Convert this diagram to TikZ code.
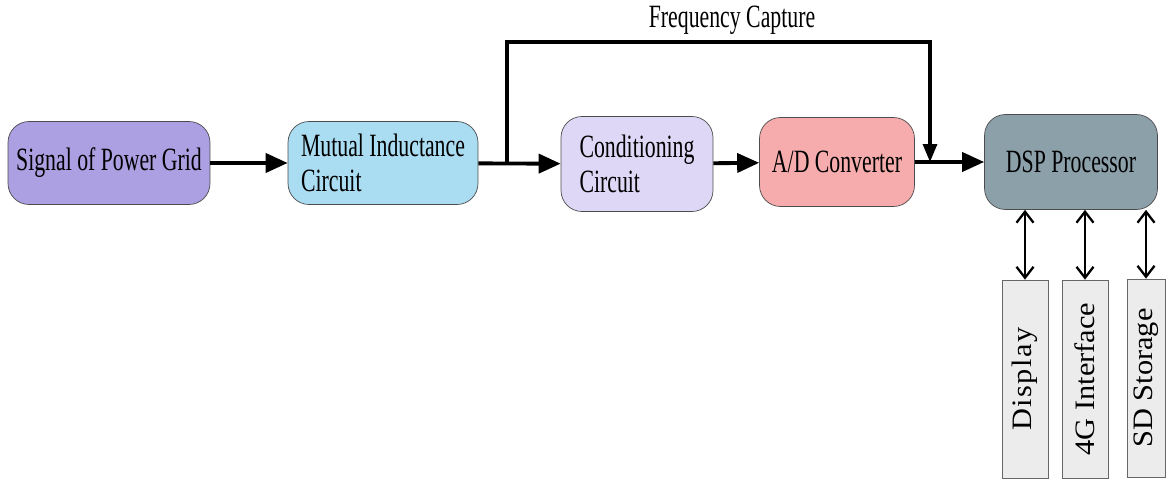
\documentclass[tikz,border=0pt]{standalone}
\usepackage{fontspec}
\setmainfont{Liberation Serif}[FakeStretch=0.67]
\newfontfamily\verticalfont{Liberation Serif}[FakeStretch=1.08]
\usetikzlibrary{arrows.meta}

\definecolor{colorSenal}{RGB}{172,160,226}
\definecolor{colorMutua}{RGB}{170,220,242}
\definecolor{colorAcond}{RGB}{222,216,246}
\definecolor{colorConv}{RGB}{246,172,172}
\definecolor{colorDsp}{RGB}{140,160,170}

\begin{document}
\begin{tikzpicture}[
        x=0.02cm, y=-0.02cm,
        every node/.style={font=\fontsize{18.5}{20}\selectfont},
        bloque/.style={draw=black!70, rounded corners=0.42cm, minimum height=1.66cm, inner sep=0pt},
        periferico/.style={draw=black!60, fill=gray!15, rotate=90, minimum width=3.96cm, minimum height=0.92cm, inner sep=0pt, font=\verticalfont\fontsize{16}{18}\selectfont},
        flecha/.style={line width=2.2pt, -{Triangle[length=0.44cm, width=0.38cm]}},
        retorno/.style={line width=1.8pt, -{Triangle[length=0.36cm, width=0.28cm]}},
        doble/.style={line width=1.3pt, {Straight Barb[length=0.22cm, width=0.34cm]}-{Straight Barb[length=0.22cm, width=0.34cm]}}
    ]
    \useasboundingbox (0,0) rectangle (1166,483);

    % Bloques
    \node[bloque, fill=colorSenal, minimum width=4.04cm] (senal) at (109,163) {Signal of Power Grid};
    \node[bloque, fill=colorMutua, minimum width=3.8cm, align=left] (mutua) at (383,163) {Mutual Inductance\\Circuit};
    \node[bloque, fill=colorAcond, minimum width=3.04cm, minimum height=1.9cm, align=left] (acond) at (637,164) {Conditioning\\Circuit};
    \node[bloque, fill=colorConv, minimum width=3.1cm, minimum height=1.78cm] (conv) at (837,162) {A/D Converter};
    \node[bloque, fill=colorDsp, minimum width=3.46cm, minimum height=1.9cm] (dsp) at (1071,162) {DSP Processor};

    % Perifericos
    \node[periferico] (display) at (1025,379) {\addfontfeature{LetterSpace=5}Display};
    \node[periferico] (interfaz) at (1085,379) {4G Interface};
    \node[periferico, minimum height=0.76cm] (memoria) at (1146,378) {SD Storage};

    % Captura de frecuencia
    \coordinate (derivacion) at (507,164);
    \coordinate (esquina) at (930,42);
    \coordinate (llegada) at (930,162);
    \node (captura) at (732,20) {Frequency Capture};

    % Aristas
    \draw[flecha] (senal) -- (mutua);
    \draw[flecha] (mutua) -- (acond);
    \draw[flecha] (acond) -- (conv);
    \draw[flecha] (conv) -- (dsp);
    \draw[retorno] (derivacion) |- (esquina) -- (llegada);
    \draw[doble] (display.east) -- (display.east |- dsp.south);
    \draw[doble] (interfaz.east) -- (interfaz.east |- dsp.south);
    \draw[doble] (memoria.east) -- (memoria.east |- dsp.south);
\end{tikzpicture}
\end{document}
